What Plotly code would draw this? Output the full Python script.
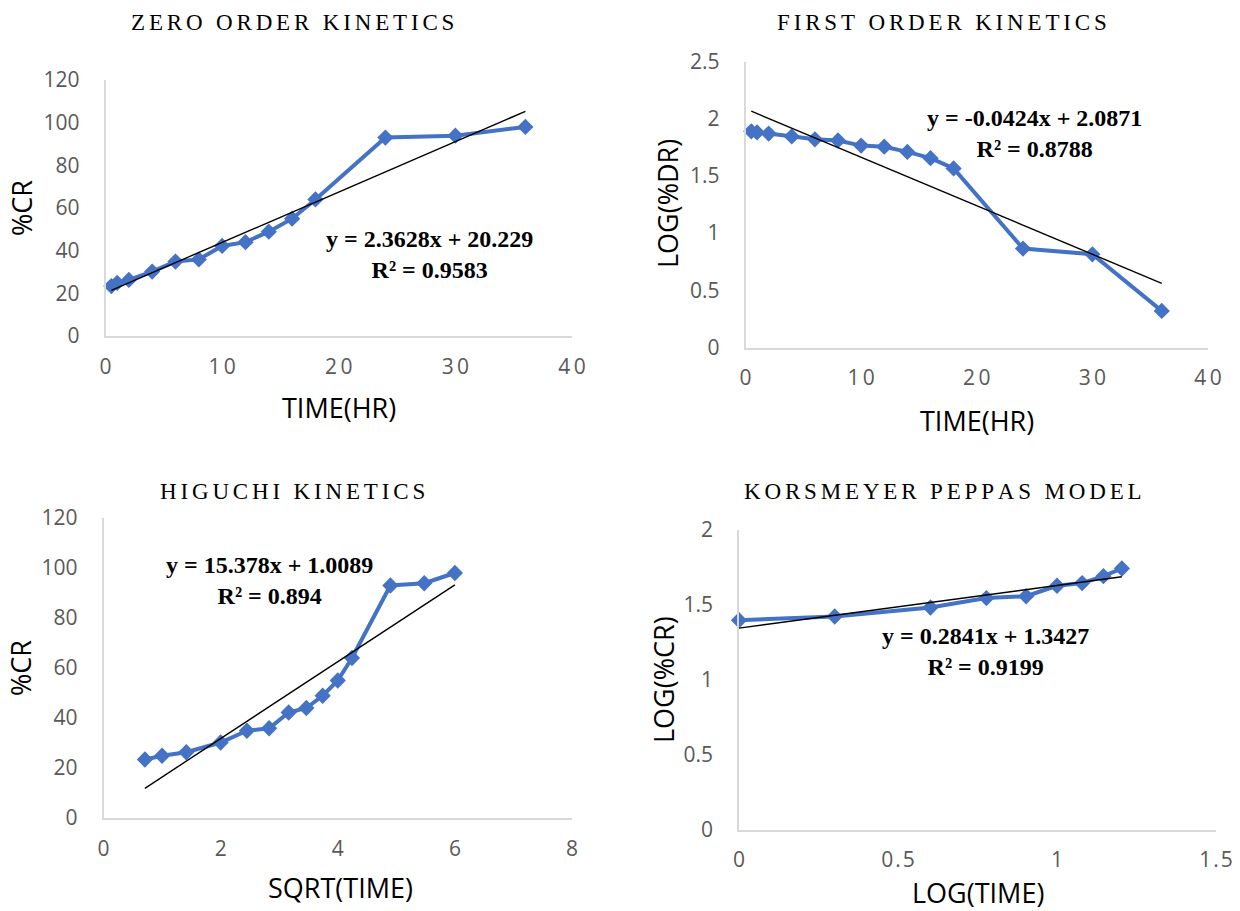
import plotly.graph_objects as go

# ---- data -------------------------------------------------------------
time_hr = [0.5, 1, 2, 4, 6, 8, 10, 12, 14, 16, 18, 24, 30, 36]
cum_release = [23.4, 24.9, 26.3, 30.2, 34.9, 35.9, 42.2, 44.0, 48.9, 55.0, 64.0, 93.0, 93.9, 98.0]
log_remaining = [1.89, 1.88, 1.87, 1.845, 1.82, 1.81, 1.765, 1.755, 1.71, 1.655, 1.565, 0.865, 0.815, 0.32]
sqrt_time = [0.707, 1.0, 1.414, 2.0, 2.449, 2.828, 3.162, 3.464, 3.742, 4.0, 4.243, 4.899, 5.477, 6.0]
log_time = [0.0, 0.301, 0.602, 0.778, 0.903, 1.0, 1.079, 1.146, 1.204]
log_release = [1.395, 1.42, 1.48, 1.543, 1.555, 1.625, 1.643, 1.689, 1.74]

# linear fits: (slope, intercept, R^2)
fit_zero = (2.3628, 20.229, "0.9583")
fit_first = (-0.0424, 2.0871, "0.8788")
fit_higuchi = (15.378, 1.0089, "0.894")
fit_peppas = (0.2841, 1.3427, "0.9199")

titles = ["ZERO ORDER KINETICS", "FIRST ORDER KINETICS",
          "HIGUCHI KINETICS", "KORSMEYER PEPPAS MODEL"]
x_titles = ["TIME(HR)", "TIME(HR)", "SQRT(TIME)", "LOG(TIME)"]
y_titles = ["%CR", "LOG(%DR)", "%CR", "LOG(%CR)"]

x_ticks = [[0, 10, 20, 30, 40], [0, 10, 20, 30, 40], [0, 2, 4, 6, 8], [0, 0.5, 1, 1.5]]
x_tick_text = [["0", "10", "20", "30", "40"], ["0", "10", "20", "30", "40"],
               ["0", "2", "4", "6", "8"], ["0", "0.5", "1", "1.5"]]
y_ticks = [[0, 20, 40, 60, 80, 100, 120], [0, 0.5, 1, 1.5, 2, 2.5],
           [0, 20, 40, 60, 80, 100, 120], [0, 0.5, 1, 1.5, 2]]
y_tick_text = [["0", "20", "40", "60", "80", "100", "120"], ["0", "0.5", "1", "1.5", "2", "2.5"],
               ["0", "20", "40", "60", "80", "100", "120"], ["0", "0.5", "1", "1.5", "2"]]

# ---- layout geometry (pixels in a 1240 x 911 canvas) ---------------------
W, H = 1240, 911
plot_boxes = [  # left, right, top, bottom
    (105.5, 572, 80, 336),
    (745.5, 1208, 61.5, 347.5),
    (103.5, 572, 518, 818),
    (739, 1216, 529.5, 829.5),
]
title_pos = [(292, 22), (942, 22), (292, 492), (943, 492)]
xtitle_pos = [(339, 408), (977, 420), (340, 887), (978, 892)]
ytitle_pos = [(22, 208), (668, 204), (20, 668), (663, 680)]
eq_pos = [(429, 254), (1034, 133), (269, 580), (985, 651)]
x_spaced = [True, True, False, True]

BLUE = "#4472C4"
TICK_GREY = "#595959"
AXIS_GREY = "#D9D9D9"
SANS = "Open Sans, Lato, sans-serif"
SERIF = "Liberation Serif, Times New Roman, serif"
THIN = "\u2009"
HAIR = "\u200a"


def px(x):
    return x / W


def py(y):
    return 1 - y / H


def letter_spaced(text):
    return (HAIR * 2).join(text)


series_x = [time_hr, time_hr, sqrt_time, log_time]
series_y = [cum_release, log_remaining, cum_release, log_release]
fits = [fit_zero, fit_first, fit_higuchi, fit_peppas]

fig = go.Figure()
layout = dict(
    width=W, height=H,
    margin=dict(l=0, r=0, t=0, b=0, pad=0, autoexpand=False),
    autosize=False,
    paper_bgcolor="white", plot_bgcolor="white",
    showlegend=False,
    annotations=[],
)

for i in range(4):
    n = "" if i == 0 else str(i + 1)
    xa, ya = "x" + n, "y" + n
    xs, ys = series_x[i], series_y[i]
    slope, icpt, r2 = fits[i]

    fig.add_trace(go.Scatter(
        x=xs, y=ys, xaxis=xa, yaxis=ya, mode="lines+markers",
        line=dict(color=BLUE, width=4),
        marker=dict(symbol="diamond", size=12.5, color=BLUE),
        hoverinfo="skip", cliponaxis=False,
    ))
    x0, x1 = min(xs), max(xs)
    fig.add_trace(go.Scatter(
        x=[x0, x1], y=[slope * x0 + icpt, slope * x1 + icpt],
        xaxis=xa, yaxis=ya, mode="lines",
        line=dict(color="black", width=1.4), hoverinfo="skip",
    ))

    left, right, top, bottom = plot_boxes[i]
    if x_spaced[i]:
        sep = HAIR if i == 3 else THIN
        xt = [sep.join(t) for t in x_tick_text[i]]
    else:
        xt = x_tick_text[i]
    layout["xaxis" + n] = dict(
        domain=[px(left), px(right)], anchor=ya,
        range=[x_ticks[i][0], x_ticks[i][-1]],
        tickvals=x_ticks[i], ticktext=xt, automargin=False,
        showgrid=False, zeroline=False,
        showline=True, linecolor=AXIS_GREY, linewidth=1.5,
        ticks="", ticklabelstandoff=11,
        tickfont=dict(family=SANS, size=21, color=TICK_GREY),
    )
    layout["yaxis" + n] = dict(
        domain=[py(bottom), py(top)], anchor=xa,
        range=[y_ticks[i][0], y_ticks[i][-1]],
        tickvals=y_ticks[i], ticktext=y_tick_text[i], automargin=False,
        showgrid=False, zeroline=False,
        showline=True, linecolor=AXIS_GREY, linewidth=1.5,
        ticks="", ticklabelstandoff=20,
        tickfont=dict(family=SANS, size=21, color=TICK_GREY),
    )

    tx, ty = title_pos[i]
    layout["annotations"].append(dict(
        text=letter_spaced(titles[i]), x=px(tx), y=py(ty),
        xref="paper", yref="paper", xanchor="center", yanchor="middle",
        showarrow=False, font=dict(family=SERIF, size=23, color="black"),
    ))
    ax_, ay_ = xtitle_pos[i]
    layout["annotations"].append(dict(
        text=x_titles[i], x=px(ax_), y=py(ay_),
        xref="paper", yref="paper", xanchor="center", yanchor="middle",
        showarrow=False, font=dict(family=SANS, size=27, color="black"),
    ))
    bx, by = ytitle_pos[i]
    layout["annotations"].append(dict(
        text=y_titles[i], x=px(bx), y=py(by), textangle=-90,
        xref="paper", yref="paper", xanchor="center", yanchor="middle",
        showarrow=False, font=dict(family=SANS, size=27, color="black"),
    ))
    sign = "+" if icpt >= 0 else "-"
    eq = f"y = {slope:g}x {sign} {abs(icpt):g}<br>R² = {r2}"
    ex, ey = eq_pos[i]
    layout["annotations"].append(dict(
        text=f"<b>{eq}</b>", x=px(ex), y=py(ey),
        xref="paper", yref="paper", xanchor="center", yanchor="middle",
        align="center", showarrow=False,
        font=dict(family=SERIF, size=24, color="black"),
    ))

fig.update_layout(**layout)
fig.write_html("out.html")
